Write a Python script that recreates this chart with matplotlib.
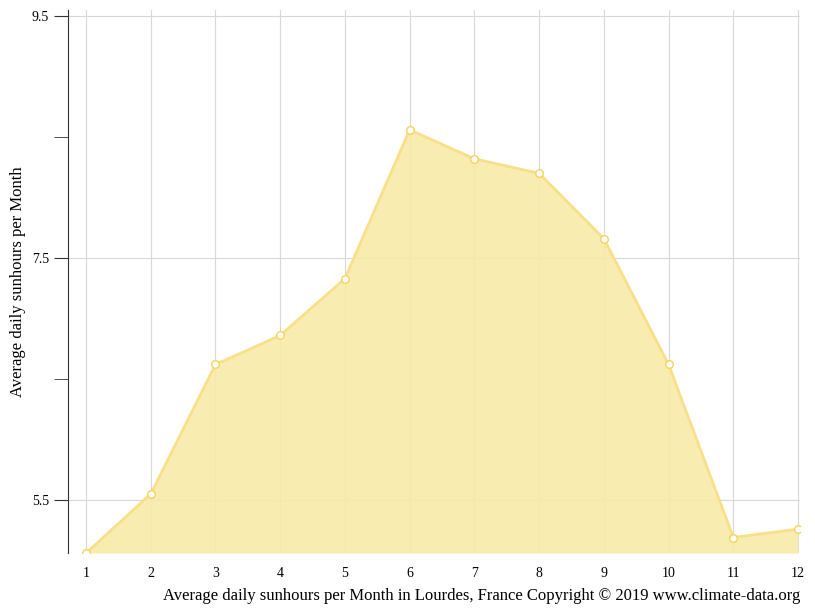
import matplotlib
matplotlib.use("Agg")
import matplotlib.pyplot as plt

months = list(range(1, 13))
sunhours = [5.06, 5.55, 6.62, 6.86, 7.33, 8.56, 8.32, 8.20, 7.66, 6.62, 5.19, 5.26]

plt.rcParams['font.family'] = ['Liberation Serif', 'DejaVu Serif']
fig = plt.figure(figsize=(8.15, 6.11), dpi=100)
ax = fig.add_axes([68/815, 1-553/611, 732/815, 543/611])
ax.set_xlim(0.722, 12.03)
ax.set_ylim(5.062, 9.55)
ax.fill_between(months, sunhours, 5.062, color='#f9eaa8', alpha=0.9, lw=0, zorder=2)
ax.plot(months, sunhours, color='#f8e08a', lw=2, zorder=3)
ax.scatter(months, sunhours, s=30, facecolor='white', edgecolor='#f5d45a', lw=1, zorder=4)
ax.set_xticks(months)
ax.set_yticks([5.5, 7.5, 9.5])
ax.set_yticks([6.5, 8.5], minor=True)
ax.set_yticklabels(['5.5', '7.5', '9.5'])
ax.grid(True, color='#d8d8d8', lw=0.8, zorder=0)
for s in ['top', 'right', 'bottom']:
    ax.spines[s].set_visible(False)
ax.spines['left'].set_color('#333333')
ax.tick_params(axis='x', length=0, pad=10, labelsize=10)
ax.tick_params(axis='y', which='both', length=10, color='#333333', labelsize=10)
ax.set_ylabel('Average daily sunhours per Month', fontsize=12)
ax.set_xlabel('Average daily sunhours per Month in Lourdes, France Copyright © 2019 www.climate-data.org',
              fontsize=12, loc='right', labelpad=6)
fig.savefig('out.png', dpi=100)
